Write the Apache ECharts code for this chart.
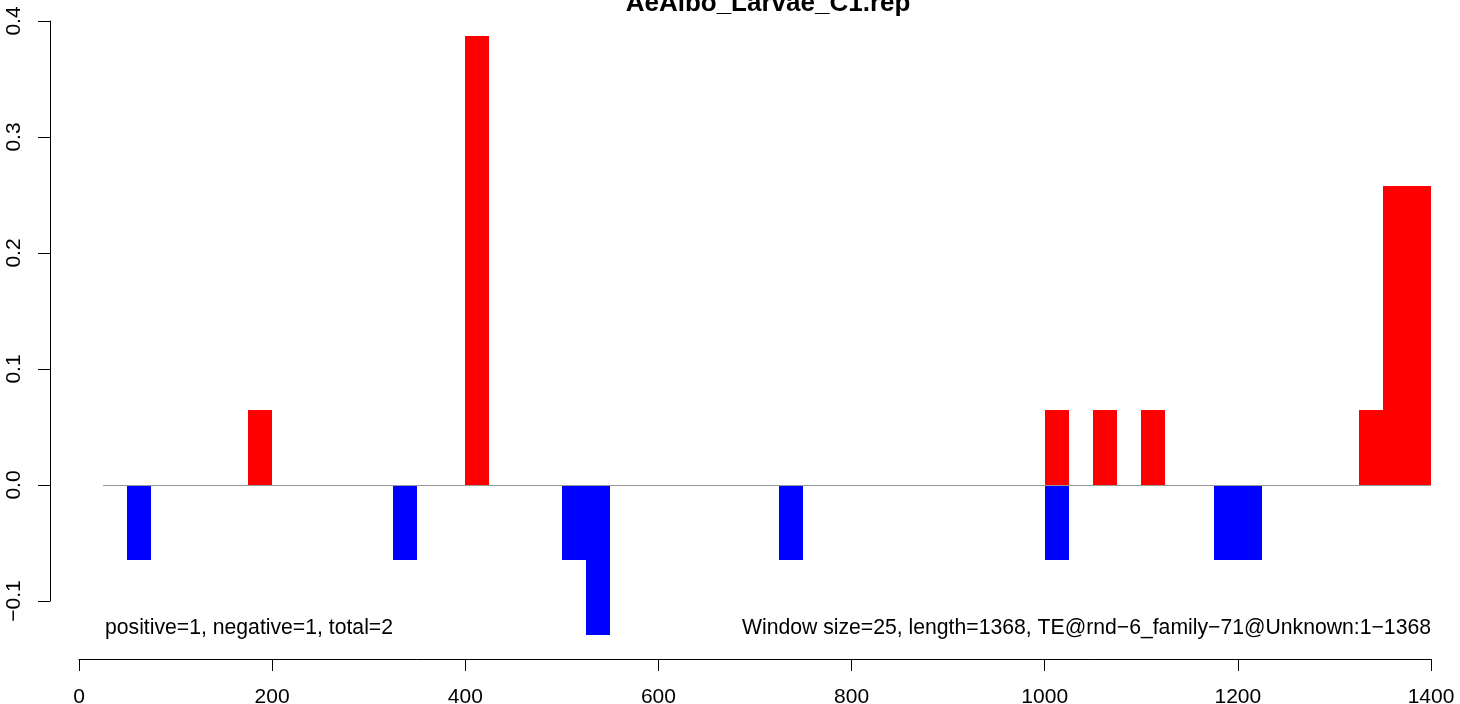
<!DOCTYPE html>
<html>
<head>
<meta charset="utf-8">
<script src="https://cdn.jsdelivr.net/npm/echarts@6/dist/echarts.min.js"></script>
<style>
html,body{margin:0;padding:0;background:#fff;}
#chart{width:1460px;height:704px;}
</style>
</head>
<body>
<div id="chart"></div>
<script>
// ---- data ----
const windowSize = 25;
const posStarts = [175, 400, 1000, 1050, 1100, 1325, 1350, 1375];
const posValues = [0.0645, 0.387, 0.0645, 0.0645, 0.0645, 0.0645, 0.258, 0.258];
const negStarts = [50, 325, 500, 525, 725, 1000, 1175, 1200];
const negValues = [-0.0645, -0.0645, -0.0645, -0.129, -0.0645, -0.0645, -0.0645, -0.0645];
const baselineX = [25, 1400];
const xTicks = [0, 200, 400, 600, 800, 1000, 1200, 1400];
const yTicks = [-0.1, 0.0, 0.1, 0.2, 0.3, 0.4];
const titleText = 'AeAlbo_Larvae_C1.rep';
const leftNote = 'positive=1, negative=1, total=2';
const rightNote = 'Window size=25, length=1368, TE@rnd\u22126_family\u221271@Unknown:1\u22121368';

const FONT = '"Liberation Sans", Arial, Helvetica, sans-serif';

function toRects(starts, values) {
  return starts.map((s, i) => [s, s + windowSize, values[i]]);
}

function renderBar(color) {
  return function (params, api) {
    const p1 = api.coord([api.value(0), api.value(2)]);
    const p2 = api.coord([api.value(1), 0]);
    const x1 = Math.round(Math.min(p1[0], p2[0]));
    const x2 = Math.round(Math.max(p1[0], p2[0]));
    const y1 = Math.round(Math.min(p1[1], p2[1]));
    const y2 = Math.round(Math.max(p1[1], p2[1]));
    return {
      type: 'rect',
      shape: { x: x1, y: y1, width: x2 - x1, height: y2 - y1 },
      style: { fill: color }
    };
  };
}

function renderBaseline(params, api) {
  const a = api.coord([baselineX[0], 0]);
  const b = api.coord([baselineX[1], 0]);
  const y = Math.round(a[1]) + 0.5;
  return {
    type: 'line',
    shape: { x1: Math.round(a[0]), y1: y, x2: Math.round(b[0]), y2: y },
    style: { stroke: '#999999', lineWidth: 1 }
  };
}

const chart = echarts.init(document.getElementById('chart'), null, { renderer: 'canvas' });
chart.setOption({
  animation: false,
  backgroundColor: '#ffffff',
  grid: { left: 79, right: 29, top: 21, bottom: 103, containLabel: false, outerBoundsMode: 'none' },
  xAxis: {
    type: 'value',
    min: xTicks[0],
    max: xTicks[xTicks.length - 1],
    interval: xTicks[1] - xTicks[0],
    offset: 58,
    axisLine: { show: true, onZero: false, lineStyle: { color: '#000', width: 1 } },
    axisTick: { show: true, length: 12, inside: false, lineStyle: { color: '#000', width: 1 } },
    axisLabel: {
      show: true, margin: 28, color: '#000', fontSize: 21, fontFamily: FONT,
      showMinLabel: true, showMaxLabel: true,
      formatter: function (v) { return String(v); }
    },
    splitLine: { show: false }
  },
  yAxis: {
    type: 'value',
    min: yTicks[0],
    max: yTicks[yTicks.length - 1],
    interval: 0.1,
    offset: 29,
    axisLine: { show: true, onZero: false, lineStyle: { color: '#000', width: 1 } },
    axisTick: { show: true, length: 12, inside: false, lineStyle: { color: '#000', width: 1 } },
    axisLabel: {
      show: true, rotate: 90, margin: 25, color: '#000', fontSize: 21, fontFamily: FONT,
      showMinLabel: true, showMaxLabel: true,
      formatter: function (v) { return v.toFixed(1).replace('-', '\u2212'); }
    },
    splitLine: { show: false }
  },
  series: [
    {
      type: 'custom',
      name: 'positive',
      renderItem: renderBar('#ff0000'),
      encode: { x: [0, 1], y: 2 },
      data: toRects(posStarts, posValues),
      z: 2
    },
    {
      type: 'custom',
      name: 'negative',
      renderItem: renderBar('#0000ff'),
      encode: { x: [0, 1], y: 2 },
      data: toRects(negStarts, negValues),
      z: 2
    },
    {
      type: 'custom',
      name: 'baseline',
      renderItem: renderBaseline,
      encode: { x: [0], y: 1 },
      data: [[baselineX[0], 0]],
      silent: true,
      z: 3
    }
  ],
  graphic: [
    {
      type: 'text', x: 768, y: 3.7, z: 10,
      style: { text: titleText, fill: '#000', font: 'bold 26px ' + FONT, textAlign: 'center', textVerticalAlign: 'middle' }
    },
    {
      type: 'text', x: 105, y: 628.5, z: 10,
      style: { text: leftNote, fill: '#000', font: '21.2px ' + FONT, textAlign: 'left', textVerticalAlign: 'middle' }
    },
    {
      type: 'text', x: 1431, y: 628.5, z: 10,
      style: { text: rightNote, fill: '#000', font: '21.2px ' + FONT, textAlign: 'right', textVerticalAlign: 'middle' }
    }
  ]
});
</script>
</body>
</html>
